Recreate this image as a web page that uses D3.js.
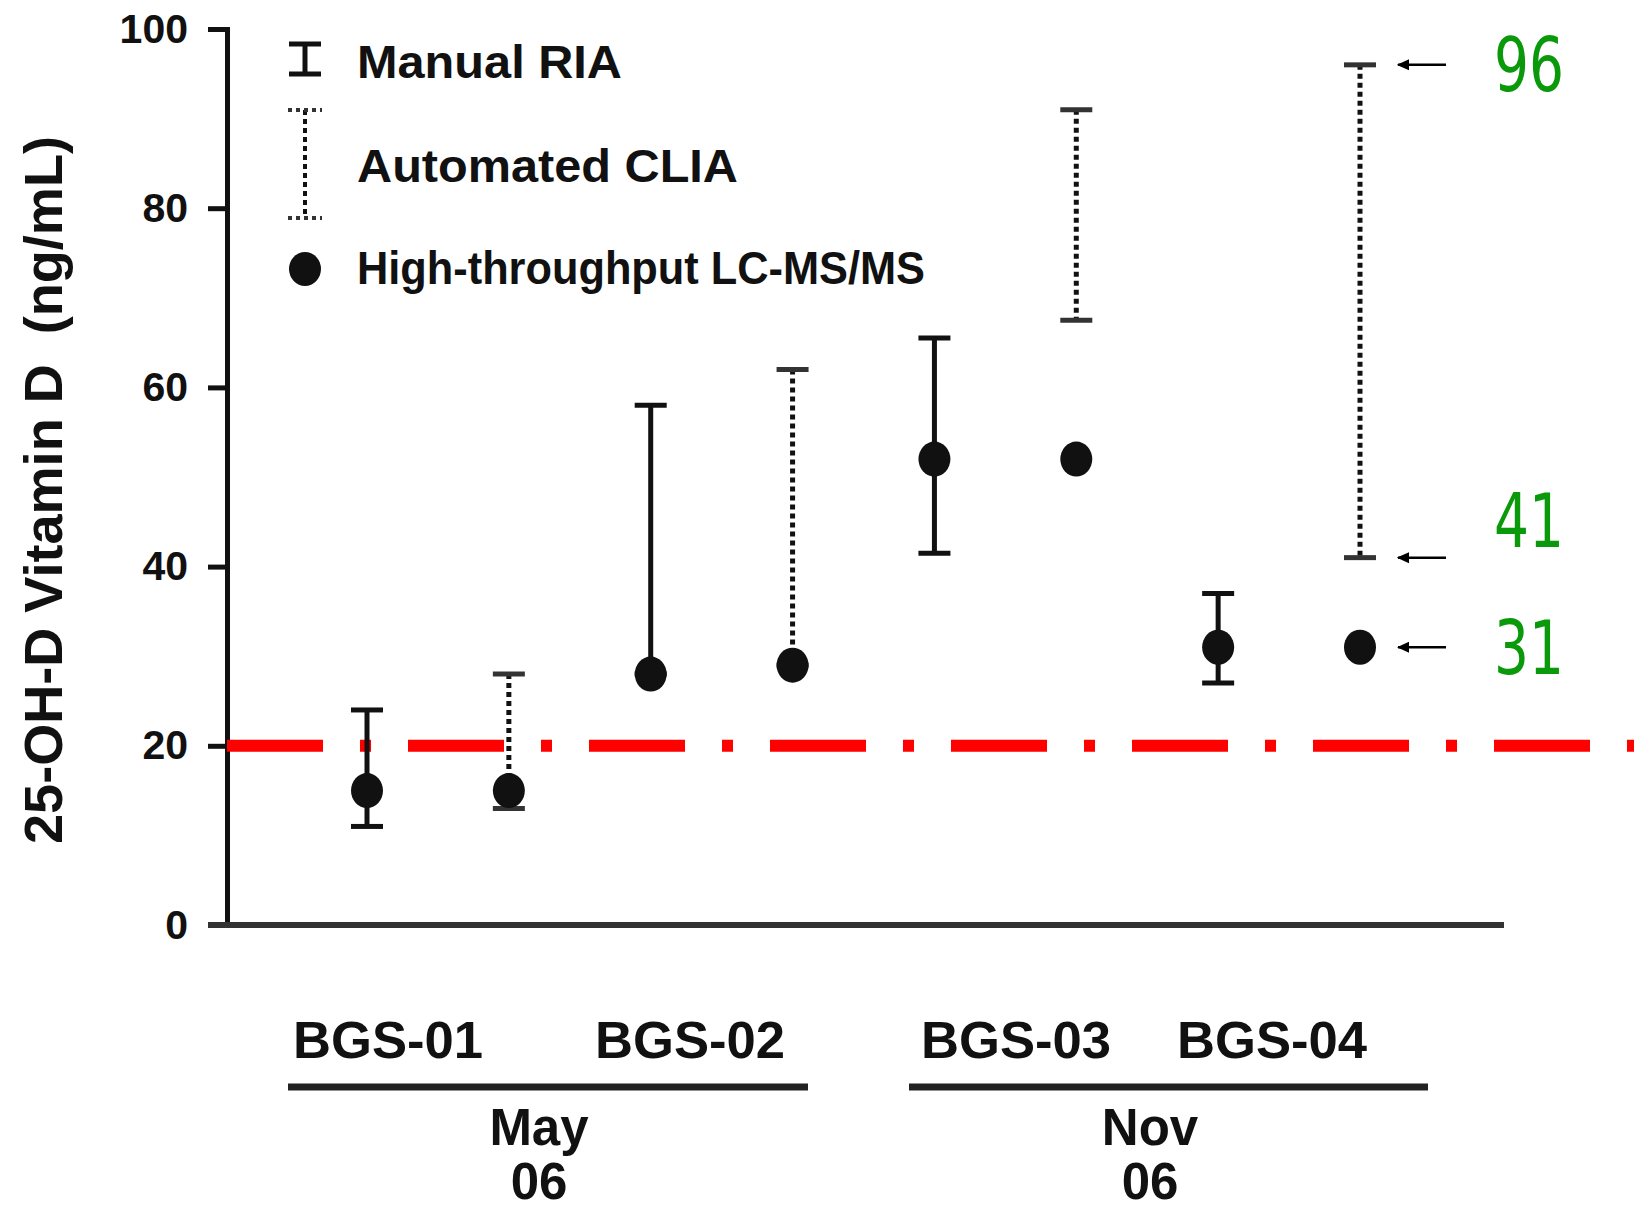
<!DOCTYPE html>
<html>
<head>
<meta charset="utf-8">
<script src="https://cdn.jsdelivr.net/npm/d3@7"></script>
<style>
  html, body { margin: 0; padding: 0; background: #fff; }
  svg { display: block; }
  text { font-family: "Liberation Sans", Arial, Helvetica, sans-serif; font-weight: bold; fill: #111; }
</style>
</head>
<body>
<svg id="chart" width="1634" height="1213"></svg>
<script>
// Samples and the two immunoassay methods plotted for each one
const samples = ["BGS-01", "BGS-02", "BGS-03", "BGS-04"];
const methods = ["RIA", "CLIA"];
const months = ["May", "Nov"];
const monthYear = ["06", "06"];

// Range of results (ng/mL) reported by each method
const riaLow   = [11, 28, 41.5, 27];
const riaHigh  = [24, 58, 65.5, 37];
const cliaLow  = [13, 29, 67.5, 41];
const cliaHigh = [28, 62, 91, 96];

// LC-MS/MS reference value shown next to each range
const lcmsAtRia  = [15, 28, 52, 31];
const lcmsAtClia = [15, 29, 52, 31];

// Deficiency cut-off
const cutoff = 20;

// Values called out on the right
const calloutValues = [96, 41, 31];

const yTicks = [0, 20, 40, 60, 80, 100];

const legendLabels = ["Manual RIA", "Automated CLIA", "High-throughput LC-MS/MS"];

const axisLabel = "25-OH-D Vitamin D\u00a0\u00a0(ng/mL)";

// ---- layout ----
const svg = d3.select("#chart");
const ink = "#111";

const keys = [];
samples.forEach(s => methods.forEach(m => keys.push(s + "|" + m)));

const x = d3.scalePoint().domain(keys).range([367, 1360]);
const y = d3.scaleLinear().domain([0, 100]).range([925, 29]);

// y axis
const yAxis = d3.axisLeft(y).tickValues(yTicks).tickSize(19).tickPadding(20);
const gy = svg.append("g").attr("transform", "translate(227,0)").call(yAxis);
gy.select(".domain").attr("stroke", ink).attr("stroke-width", 5);
gy.selectAll(".tick line").attr("stroke", ink).attr("stroke-width", 5);
gy.selectAll(".tick text")
  .attr("font-size", 41).attr("font-family", "Liberation Sans, Arial, sans-serif")
  .attr("font-weight", "bold").attr("fill", ink);

// x axis baseline
svg.append("line")
  .attr("x1", 208).attr("x2", 1504)
  .attr("y1", y(0)).attr("y2", y(0))
  .attr("stroke", "#333").attr("stroke-width", 6);

// y axis title
svg.append("text")
  .attr("transform", "translate(62,490) rotate(-90)")
  .attr("text-anchor", "middle")
  .attr("font-size", 53)
  .attr("textLength", 708).attr("lengthAdjust", "spacingAndGlyphs")
  .style("white-space", "pre")
  .text(axisLabel);

// cut-off line
svg.append("line")
  .attr("x1", 227).attr("x2", 1634)
  .attr("y1", y(cutoff)).attr("y2", y(cutoff))
  .attr("stroke", "#ff0000").attr("stroke-width", 12)
  .attr("stroke-dasharray", "96 37 11 37");

// error bars
const capW = 16;
function rangeBar(g, cx, lo, hi, dotted) {
  g.append("line")
    .attr("x1", cx).attr("x2", cx)
    .attr("y1", y(hi)).attr("y2", y(lo))
    .attr("stroke", ink).attr("stroke-width", 5)
    .attr("stroke-dasharray", dotted ? "5 4" : null);
  [lo, hi].forEach(v => {
    g.append("line")
      .attr("x1", cx - capW).attr("x2", cx + capW)
      .attr("y1", y(v)).attr("y2", y(v))
      .attr("stroke", dotted ? "#333" : ink).attr("stroke-width", 5);
  });
}

const bars = svg.append("g");
samples.forEach((s, i) => {
  rangeBar(bars, x(s + "|RIA"), riaLow[i], riaHigh[i], false);
  rangeBar(bars, x(s + "|CLIA"), cliaLow[i], cliaHigh[i], true);
});

const dots = svg.append("g");
samples.forEach((s, i) => {
  dots.append("ellipse").attr("cx", x(s + "|RIA")).attr("cy", y(lcmsAtRia[i]))
    .attr("rx", 16).attr("ry", 17.5).attr("fill", ink);
  dots.append("ellipse").attr("cx", x(s + "|CLIA")).attr("cy", y(lcmsAtClia[i]))
    .attr("rx", 16).attr("ry", 17.5).attr("fill", ink);
});

// legend
const lg = svg.append("g");
const lx = 305, tx = 357;
// solid range icon
lg.append("line").attr("x1", lx).attr("x2", lx).attr("y1", 44).attr("y2", 74)
  .attr("stroke", ink).attr("stroke-width", 5);
[44, 74].forEach(v => lg.append("line").attr("x1", lx - 16).attr("x2", lx + 16)
  .attr("y1", v).attr("y2", v).attr("stroke", ink).attr("stroke-width", 5));
// dotted range icon
lg.append("line").attr("x1", lx).attr("x2", lx).attr("y1", 110).attr("y2", 218)
  .attr("stroke", ink).attr("stroke-width", 4).attr("stroke-dasharray", "5 4");
[110, 218].forEach(v => lg.append("line").attr("x1", lx - 17).attr("x2", lx + 17)
  .attr("y1", v).attr("y2", v).attr("stroke", "#333").attr("stroke-width", 4)
  .attr("stroke-dasharray", "4 4"));
// dot icon
lg.append("ellipse").attr("cx", lx).attr("cy", 269).attr("rx", 16).attr("ry", 17).attr("fill", ink);

const legendY = [78, 182, 284];
const legendW = [265, 381, 568];
legendLabels.forEach((t, i) => {
  lg.append("text").attr("x", tx).attr("y", legendY[i])
    .attr("font-size", 46)
    .attr("textLength", legendW[i]).attr("lengthAdjust", "spacingAndGlyphs")
    .text(t);
});

// callouts: thin arrows pointing back at the marks
const co = svg.append("g");
const calloutDy = [0, -37, 0];
svg.append("defs").append("marker")
  .attr("id", "arrowHead").attr("viewBox", "0 0 10 10")
  .attr("refX", 9).attr("refY", 5)
  .attr("markerWidth", 5).attr("markerHeight", 5)
  .attr("orient", "auto")
  .append("path").attr("d", "M0,0.5 L10,5 L0,9.5 Z").attr("fill", "#000");
calloutValues.forEach((v, i) => {
  co.append("line")
    .attr("x1", 1446).attr("x2", 1398)
    .attr("y1", y(v)).attr("y2", y(v))
    .attr("stroke", "#000").attr("stroke-width", 2.5)
    .attr("marker-end", "url(#arrowHead)");
  co.append("text")
    .attr("x", 1529).attr("y", y(v) + calloutDy[i])
    .attr("dy", "0.36em")
    .attr("text-anchor", "middle")
    .style("font-family", "'Comic Sans MS', 'DejaVu Sans Condensed', 'DejaVu Sans', sans-serif")
    .style("font-weight", "normal")
    .attr("font-size", 74)
    .attr("textLength", 70).attr("lengthAdjust", "spacingAndGlyphs")
    .style("fill", "#0a990a")
    .text(String(v));
});

// category labels and month groupings
const catX = [388, 690, 1016, 1272];
samples.forEach((s, i) => {
  svg.append("text").attr("x", catX[i]).attr("y", 1058)
    .attr("text-anchor", "middle").attr("font-size", 52)
    .attr("textLength", 190).attr("lengthAdjust", "spacingAndGlyphs")
    .text(s);
});
const groupSpan = [[288, 808], [909, 1428]];
const groupCx = [539, 1150];
months.forEach((m, i) => {
  svg.append("line")
    .attr("x1", groupSpan[i][0]).attr("x2", groupSpan[i][1])
    .attr("y1", 1087).attr("y2", 1087)
    .attr("stroke", "#222").attr("stroke-width", 7);
  svg.append("text").attr("x", groupCx[i]).attr("y", 1145)
    .attr("text-anchor", "middle").attr("font-size", 51).text(m);
  svg.append("text").attr("x", groupCx[i]).attr("y", 1199)
    .attr("text-anchor", "middle").attr("font-size", 51).text(monthYear[i]);
});
</script>
</body>
</html>
